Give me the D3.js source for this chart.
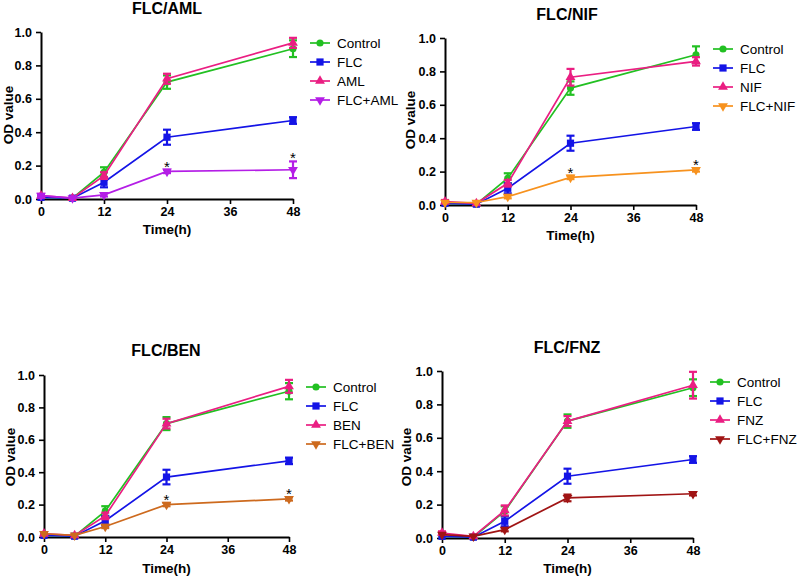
<!DOCTYPE html>
<html>
<head>
<meta charset="utf-8">
<script src="https://cdn.jsdelivr.net/npm/d3@7"></script>
<style>
  body { margin: 0; background: #fff; }
  svg { font-family: "Liberation Sans", Arial, sans-serif; }
</style>
</head>
<body>
<svg id="chart" width="798" height="577"></svg>
<script>
// time points and ticks
const times = [0, 6, 12, 24, 48];
const xTicks = [0, 12, 24, 36, 48];
const yTicks = [0, 0.2, 0.4, 0.6, 0.8, 1.0];

// series shared by all panels
const controlOD = [0.01, 0.005, 0.16, 0.70, 0.90];
const controlErr = [0.005, 0.005, 0.03, 0.04, 0.05];
const flcOD = [0.01, 0.005, 0.10, 0.37, 0.47];
const flcErr = [0.005, 0.005, 0.03, 0.045, 0.02];

// drug alone / combination series
const amlOD = [0.02, 0.005, 0.14, 0.72, 0.935];
const amlErr = [0.01, 0.005, 0.02, 0.03, 0.03];
const flcAmlOD = [0.02, 0.005, 0.025, 0.165, 0.175];
const flcAmlErr = [0.01, 0.005, 0.01, 0.01, 0.05];

const nifOD = [0.02, 0.01, 0.13, 0.765, 0.86];
const nifErr = [0.01, 0.005, 0.02, 0.05, 0.025];
const flcNifOD = [0.015, 0.015, 0.05, 0.165, 0.21];
const flcNifErr = [0.005, 0.005, 0.01, 0.01, 0.01];

const benOD = [0.02, 0.01, 0.13, 0.70, 0.93];
const benErr = [0.01, 0.005, 0.02, 0.03, 0.04];
const flcBenOD = [0.02, 0.01, 0.065, 0.20, 0.235];
const flcBenErr = [0.005, 0.005, 0.01, 0.01, 0.01];

const fnzOD = [0.03, 0.01, 0.165, 0.70, 0.915];
const fnzErr = [0.01, 0.005, 0.03, 0.03, 0.08];
const flcFnzOD = [0.02, 0.01, 0.05, 0.24, 0.265];
const flcFnzErr = [0.005, 0.005, 0.01, 0.02, 0.01];

const titles = ["FLC/AML", "FLC/NIF", "FLC/BEN", "FLC/FNZ"];
const drugNames = ["AML", "NIF", "BEN", "FNZ"];
const comboNames = ["FLC+AML", "FLC+NIF", "FLC+BEN", "FLC+FNZ"];
const starTimes = [[24, 48], [24, 48], [24, 48], []];

const green = "#22c022", blue = "#1414e6", pink = "#ea1e82";
const comboColors = ["#b41ee6", "#f7921e", "#cd6a1e", "#a01414"];

// panel placement (pixel layout)
const layout = [
  { x0: 41, x1: 293, yTop: 32, yBot: 199, titleX: 167, titleY: 14, legX: 320, legY: 43, xLabY: 234, yLabX: 13, yLabY: 115 },
  { x0: 445, x1: 696, yTop: 38, yBot: 205, titleX: 567, titleY: 20, legX: 723, legY: 49, xLabY: 240, yLabX: 415, yLabY: 120 },
  { x0: 44, x1: 289, yTop: 375, yBot: 537, titleX: 166, titleY: 356, legX: 316, legY: 387, xLabY: 573, yLabX: 15, yLabY: 457 },
  { x0: 442, x1: 693, yTop: 371, yBot: 538, titleX: 567, titleY: 353, legX: 720, legY: 382, xLabY: 573, yLabX: 411, yLabY: 457 }
];

const panels = [
  [controlOD, controlErr, flcOD, flcErr, amlOD, amlErr, flcAmlOD, flcAmlErr],
  [controlOD, controlErr, flcOD, flcErr, nifOD, nifErr, flcNifOD, flcNifErr],
  [controlOD, controlErr, flcOD, flcErr, benOD, benErr, flcBenOD, flcBenErr],
  [controlOD, controlErr, flcOD, flcErr, fnzOD, fnzErr, flcFnzOD, flcFnzErr]
];

const svg = d3.select("#chart");

const symbols = [
  { type: d3.symbolCircle, size: 40, rot: 0 },
  { type: d3.symbolSquare, size: 52, rot: 0 },
  { type: d3.symbolTriangle, size: 42, rot: 0 },
  { type: d3.symbolTriangle, size: 42, rot: 180 }
];

panels.forEach((arrs, pi) => {
  const L = layout[pi];
  const x = d3.scaleLinear().domain([0, 48]).range([L.x0, L.x1]);
  const y = d3.scaleLinear().domain([0, 1]).range([L.yBot, L.yTop]);
  const g = svg.append("g");

  const series = [
    { name: "Control", od: arrs[0], err: arrs[1], color: green },
    { name: "FLC", od: arrs[2], err: arrs[3], color: blue },
    { name: drugNames[pi], od: arrs[4], err: arrs[5], color: pink },
    { name: comboNames[pi], od: arrs[6], err: arrs[7], color: comboColors[pi] }
  ];

  // axes
  const xAxis = g.append("g")
    .attr("transform", `translate(0,${L.yBot})`)
    .call(d3.axisBottom(x).tickValues(xTicks).tickSize(5).tickSizeOuter(0));
  const yAxis = g.append("g")
    .attr("transform", `translate(${L.x0},0)`)
    .call(d3.axisLeft(y).tickValues(yTicks).tickFormat(d3.format(".1f")).tickSize(5).tickSizeOuter(0));
  [xAxis, yAxis].forEach(a => {
    a.select(".domain").attr("stroke", "#000").attr("stroke-width", 2);
    a.selectAll(".tick line").attr("stroke", "#000").attr("stroke-width", 1.6);
    a.selectAll(".tick text")
      .attr("font-size", 12.5).attr("font-weight", "bold")
      .attr("font-family", "Liberation Sans, Arial, sans-serif").attr("fill", "#000");
  });
  yAxis.selectAll(".tick text").attr("dx", -1);

  // series lines, error bars and markers
  series.forEach((s, si) => {
    const pts = times.map((t, i) => ({ t, v: s.od[i], e: s.err[i] }));
    g.append("path")
      .datum(pts)
      .attr("fill", "none")
      .attr("stroke", s.color)
      .attr("stroke-width", 1.7)
      .attr("d", d3.line().x(d => x(d.t)).y(d => y(d.v)));

    const eb = g.append("g").attr("stroke", s.color).attr("stroke-width", 2.2);
    pts.forEach(d => {
      const top = y(d.v + d.e), bot = y(d.v - d.e), cx = x(d.t);
      if (bot - top < 3) return;
      eb.append("line").attr("x1", cx).attr("x2", cx).attr("y1", top).attr("y2", bot);
      eb.append("line").attr("x1", cx - 4).attr("x2", cx + 4).attr("y1", top).attr("y2", top);
      eb.append("line").attr("x1", cx - 4).attr("x2", cx + 4).attr("y1", bot).attr("y2", bot);
    });

    const sym = symbols[si];
    g.append("g").selectAll("path")
      .data(pts)
      .join("path")
      .attr("d", d3.symbol().type(sym.type).size(sym.size))
      .attr("transform", d => `translate(${x(d.t)},${y(d.v)}) rotate(${sym.rot})`)
      .attr("fill", s.color);
  });

  // significance stars
  const combo = series[3];
  starTimes[pi].forEach(t => {
    const i = times.indexOf(t);
    g.append("text")
      .attr("x", x(t))
      .attr("y", y(combo.od[i] + combo.err[i]) + 2)
      .attr("text-anchor", "middle")
      .attr("font-size", 15)
      .attr("fill", "#000")
      .text("*");
  });

  // titles and axis labels
  g.append("text")
    .attr("x", L.titleX).attr("y", L.titleY)
    .attr("text-anchor", "middle")
    .attr("font-size", 16).attr("font-weight", "bold")
    .text(titles[pi]);
  g.append("text")
    .attr("x", (L.x0 + L.x1) / 2).attr("y", L.xLabY)
    .attr("text-anchor", "middle")
    .attr("font-size", 13.5).attr("font-weight", "bold")
    .text("Time(h)");
  g.append("text")
    .attr("transform", `translate(${L.yLabX},${L.yLabY}) rotate(-90)`)
    .attr("text-anchor", "middle")
    .attr("font-size", 13.5).attr("font-weight", "bold")
    .text("OD value");

  // legend
  series.forEach((s, si) => {
    const ly = L.legY + si * 19;
    const lg = g.append("g");
    lg.append("line")
      .attr("x1", L.legX - 10).attr("x2", L.legX + 10)
      .attr("y1", ly).attr("y2", ly)
      .attr("stroke", s.color).attr("stroke-width", 1.7);
    const sym = symbols[si];
    lg.append("path")
      .attr("d", d3.symbol().type(sym.type).size(sym.size))
      .attr("transform", `translate(${L.legX},${ly}) rotate(${sym.rot})`)
      .attr("fill", s.color);
    lg.append("text")
      .attr("x", L.legX + 17).attr("y", ly + 5)
      .attr("font-size", 13.5)
      .attr("fill", "#000")
      .text(s.name);
  });
});
</script>
</body>
</html>
